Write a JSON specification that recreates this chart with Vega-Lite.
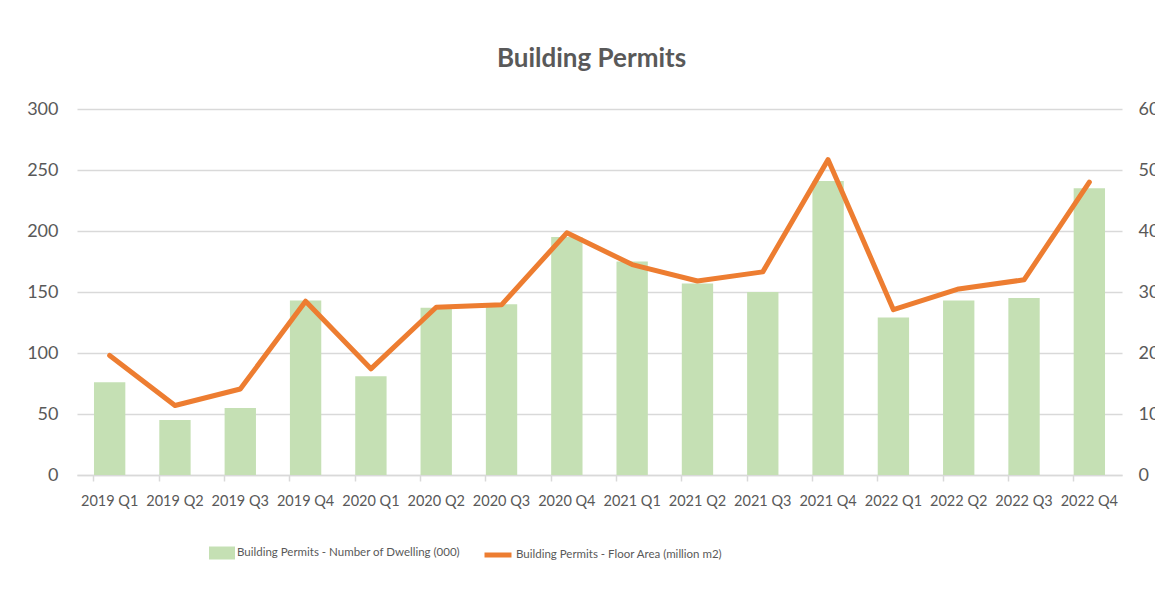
{
  "$schema": "https://vega.github.io/schema/vega-lite/v6.json",
  "width": 1045,
  "height": 366,
  "autosize": {"type": "none"},
  "padding": {"left": 77, "top": 109, "right": 33, "bottom": 114},
  "background": "white",
  "config": {
    "font": "Lato",
    "view": {"stroke": null},
    "axis": {"labelColor": "#595959", "labelFont": "Lato"},
    "legend": {"labelFont": "Lato"}
  },
  "title": {
    "text": "Building Permits",
    "font": "Lato",
    "fontSize": 26,
    "fontWeight": "bold",
    "color": "#595959",
    "anchor": "middle",
    "offset": 28,
    "dx": -8
  },
  "data": {
    "values": [
      {"quarter": "2019 Q1", "dwelling": 76, "floor": 19.6},
      {"quarter": "2019 Q2", "dwelling": 45, "floor": 11.4},
      {"quarter": "2019 Q3", "dwelling": 55, "floor": 14.1},
      {"quarter": "2019 Q4", "dwelling": 143, "floor": 28.5},
      {"quarter": "2020 Q1", "dwelling": 81, "floor": 17.4},
      {"quarter": "2020 Q2", "dwelling": 137, "floor": 27.5},
      {"quarter": "2020 Q3", "dwelling": 140, "floor": 27.9},
      {"quarter": "2020 Q4", "dwelling": 195, "floor": 39.7},
      {"quarter": "2021 Q1", "dwelling": 175, "floor": 34.5},
      {"quarter": "2021 Q2", "dwelling": 157, "floor": 31.8},
      {"quarter": "2021 Q3", "dwelling": 150, "floor": 33.3},
      {"quarter": "2021 Q4", "dwelling": 241, "floor": 51.7},
      {"quarter": "2022 Q1", "dwelling": 129, "floor": 27.1},
      {"quarter": "2022 Q2", "dwelling": 143, "floor": 30.5},
      {"quarter": "2022 Q3", "dwelling": 145, "floor": 32.0},
      {"quarter": "2022 Q4", "dwelling": 235, "floor": 48.0}
    ]
  },
  "layer": [
    {
      "mark": {"type": "bar"},
      "encoding": {
        "x": {
          "field": "quarter",
          "type": "nominal",
          "sort": null,
          "scale": {"paddingInner": 0.52, "paddingOuter": 0.26},
          "axis": {
            "title": null,
            "orient": "bottom",
            "labelAngle": 0,
            "labelFontSize": 14.5,
            "labelPadding": 19,
            "ticks": false,
            "domain": false,
            "grid": false
          }
        },
        "y": {
          "field": "dwelling",
          "type": "quantitative",
          "scale": {"domain": [0, 300]},
          "axis": {
            "title": null,
            "orient": "left",
            "values": [0, 50, 100, 150, 200, 250, 300],
            "grid": true,
            "gridColor": "#D9D9D9",
            "gridWidth": 1.5,
            "domain": false,
            "ticks": false,
            "labelFontSize": 18,
            "labelPadding": 19
          }
        },
        "fill": {
          "datum": "Building Permits - Number of Dwelling (000)",
          "scale": {"range": ["#C5E0B4"]},
          "legend": {
            "title": null,
            "orient": "none",
            "legendX": 132,
            "legendY": 431,
            "padding": 0,
            "symbolType": "M-1,-0.5L1,-0.5L1,0.5L-1,0.5Z",
            "symbolSize": 676,
            "symbolStrokeWidth": 0,
            "symbolOpacity": 1,
            "labelFontSize": 11.5,
            "labelColor": "#595959",
            "labelOffset": 2,
            "labelLimit": 400
          }
        }
      }
    },
    {
      "mark": {"type": "line", "strokeWidth": 5, "strokeCap": "round", "strokeJoin": "round"},
      "encoding": {
        "x": {
          "field": "quarter",
          "type": "nominal",
          "sort": null,
          "axis": {
            "title": null,
            "orient": "bottom",
            "labels": false,
            "ticks": true,
            "tickSize": 6,
            "tickColor": "#D9D9D9",
            "tickWidth": 1.5,
            "bandPosition": 0,
            "domain": true,
            "domainColor": "#D9D9D9",
            "domainWidth": 1.5,
            "grid": false
          }
        },
        "y": {
          "field": "floor",
          "type": "quantitative",
          "scale": {"domain": [0, 60]},
          "axis": {
            "title": null,
            "orient": "right",
            "values": [0, 10, 20, 30, 40, 50, 60],
            "grid": false,
            "domain": false,
            "ticks": false,
            "labelFontSize": 18,
            "labelPadding": 16
          }
        },
        "stroke": {
          "datum": "Building Permits - Floor Area (million m2)",
          "scale": {"range": ["#ED7D31"]},
          "legend": {
            "title": null,
            "orient": "none",
            "legendX": 405,
            "legendY": 430,
            "padding": 0,
            "symbolType": "stroke",
            "symbolSize": 729,
            "symbolStrokeWidth": 5,
            "labelFontSize": 11.5,
            "labelColor": "#595959",
            "labelOffset": 2,
            "labelLimit": 400
          }
        }
      }
    }
  ],
  "resolve": {
    "scale": {"y": "independent"},
    "axis": {"x": "independent", "y": "independent"}
  }
}
